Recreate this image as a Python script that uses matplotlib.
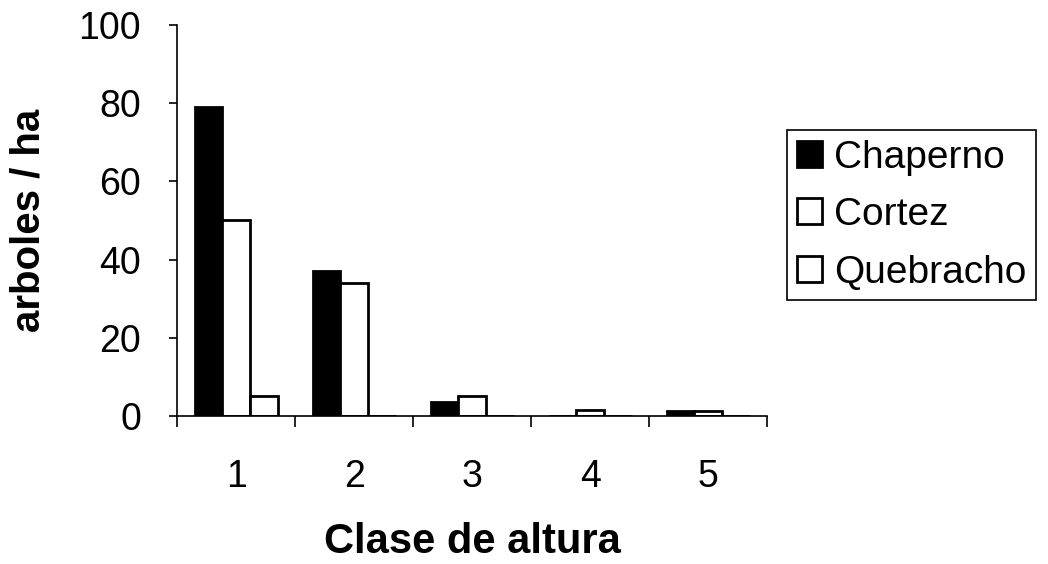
import matplotlib.pyplot as plt
import numpy as np

plt.rcParams['font.family'] = ['Liberation Sans', 'DejaVu Sans']

clases = ['1', '2', '3', '4', '5']
chaperno = [79, 37, 3.5, 0, 1.2]
cortez = [50, 34, 5, 1.5, 1.2]
quebracho = [5, 0, 0, 0, 0]

fig = plt.figure(figsize=(10.48, 5.64), dpi=100)
ax = fig.add_axes([0.169, 0.2624, 0.563, 0.6933])

x = np.arange(1, len(clases) + 1)
w = 0.235
ax.bar(x - w, chaperno, width=w, color='black', edgecolor='black', linewidth=2, label='Chaperno')
ax.bar(x, cortez, width=w, color='white', edgecolor='black', linewidth=2, label='Cortez')
ax.bar(x + w, quebracho, width=w, color='white', edgecolor='black', linewidth=2, label='Quebracho')

ax.set_xlim(0.5, 5.5)
ax.set_ylim(0, 100)
ax.set_yticks([0, 20, 40, 60, 80, 100])
ax.set_xticks(x)
ax.set_xticklabels(clases)
ax.set_xticks(np.arange(0.5, 5.6, 1), minor=True)
ax.tick_params(axis='x', which='major', length=0, pad=31, labelsize=27)
ax.tick_params(axis='x', which='minor', length=8, width=1.2, direction='out')
ax.tick_params(axis='y', length=6, width=1.2, direction='out', pad=20, labelsize=27)

for s in ['top', 'right']:
  ax.spines[s].set_visible(False)
for s in ['left', 'bottom']:
  ax.spines[s].set_linewidth(1.2)

ax.set_xlabel('Clase de altura', fontsize=30, fontweight='bold')
ax.xaxis.set_label_coords(0.5, -0.272)
ax.set_ylabel('arboles / ha', fontsize=29, fontweight='bold')
ax.yaxis.set_label_coords(-0.219, 0.5)

leg = ax.legend(loc='upper left', bbox_to_anchor=(787/1048, 1 - 130/564),
                bbox_transform=fig.transFigure, fontsize=28, frameon=True,
                fancybox=False, edgecolor='black', framealpha=1,
                handlelength=0.65, handleheight=0.65, handletextpad=0.3,
                labelspacing=0.55, borderpad=0.25, borderaxespad=0)
leg.get_frame().set_linewidth(1.2)

plt.savefig('out.png', dpi=100)
